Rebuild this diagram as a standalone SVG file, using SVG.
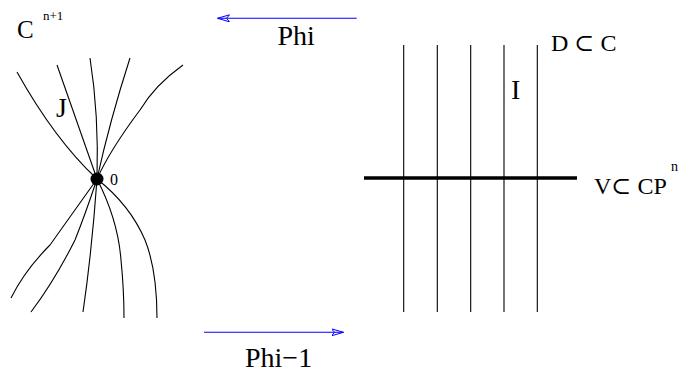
<svg xmlns="http://www.w3.org/2000/svg" width="688" height="372" viewBox="0 0 688 372">
<style>
.t{font-family:"Liberation Serif","DejaVu Serif",serif;fill:#000}
.c{fill:none;stroke:#000;stroke-width:1.1}
.a{fill:none;stroke:#0000ff;stroke-width:1.1}
</style>
<defs>
<marker id="ah" markerUnits="userSpaceOnUse" markerWidth="16" markerHeight="10" refX="12" refY="4" orient="auto">
<path d="M12,4 L0,0.5 L3,4 L0,7.5 Z" fill="none" stroke="#0000ff" stroke-width="1"/>
</marker>
</defs>
<rect width="688" height="372" fill="#fff"/>
<g id="left-space">
<path class="c" d="M17,72 Q55,140 97,179"/>
<path class="c" d="M57,65 Q78,125 97,179"/>
<path class="c" d="M90,58 Q99,115 97,179"/>
<path class="c" d="M130,58 Q110,120 97,179"/>
<path class="c" d="M183,65 Q155,85 140,110 Q110,150 97,179"/>
<path class="c" d="M97,179 Q75,210 50,245 Q25,270 11,298"/>
<path class="c" d="M97,179 Q85,215 75,240 Q55,280 31,312"/>
<path class="c" d="M97,179 Q92,250 83,312"/>
<path class="c" d="M97,179 Q118,220 121,260 Q124,290 124,318"/>
<path class="c" d="M97,179 Q130,205 145,240 Q157,270 157,318"/>
<circle cx="97" cy="179" r="6.5" fill="#000"/>
<text class="t" x="17" y="38" font-size="25">C</text>
<text class="t" x="43" y="19.5" font-size="13">n+1</text>
<text class="t" x="56" y="117" font-size="28">J</text>
<text class="t" x="110" y="184.5" font-size="16">0</text>
</g>
<g id="right-space">
<line class="c" x1="403.7" y1="45" x2="403.7" y2="312"/>
<line class="c" x1="437.3" y1="45" x2="437.3" y2="312"/>
<line class="c" x1="470.7" y1="45" x2="470.7" y2="312"/>
<line class="c" x1="504" y1="45" x2="504" y2="312"/>
<line class="c" x1="537.3" y1="45" x2="537.3" y2="312"/>
<line x1="364" y1="178" x2="577" y2="178" stroke="#000" stroke-width="3.5"/>
<text class="t" x="551" y="51" font-size="24">D ⊂ C</text>
<text class="t" x="511" y="99" font-size="28">I</text>
<text class="t" x="594" y="194" font-size="24">V⊂ CP</text>
<text class="t" x="671" y="171" font-size="14">n</text>
</g>
<g id="connectors">
<line class="a" x1="356.7" y1="18.3" x2="217.5" y2="18.3" marker-end="url(#ah)"/>
<line class="a" x1="204" y1="332.3" x2="343.5" y2="332.3" marker-end="url(#ah)"/>
<text class="t" x="277.5" y="44.5" font-size="28">Phi</text>
<text class="t" x="245" y="367" font-size="28">Phi−1</text>
</g>
</svg>
